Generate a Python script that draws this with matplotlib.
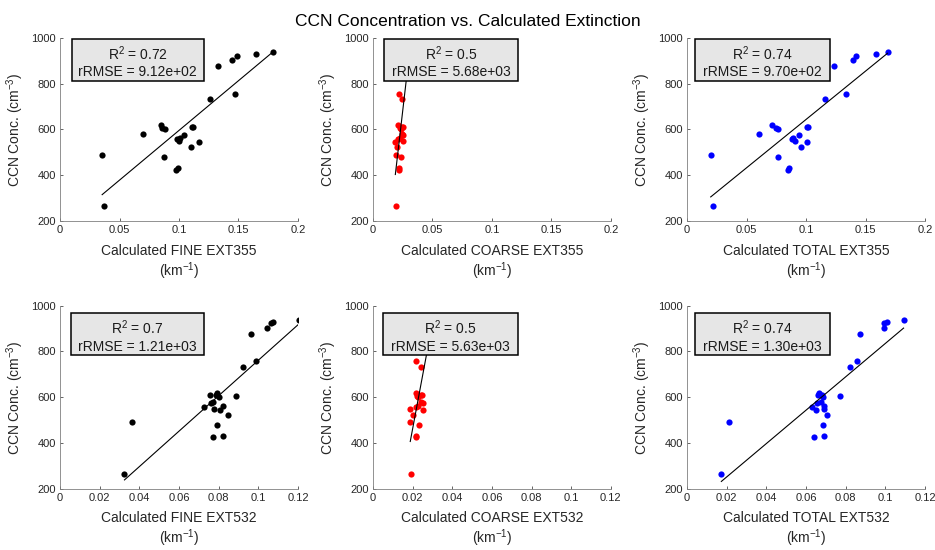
import numpy as np
import matplotlib.pyplot as plt
from matplotlib.patches import Rectangle
from matplotlib.ticker import FormatStrFormatter

plt.rcParams['font.family'] = 'Liberation Sans'
plt.rcParams['mathtext.fontset'] = 'custom'
plt.rcParams['mathtext.rm'] = 'Liberation Sans'
plt.rcParams['mathtext.it'] = 'Liberation Sans:italic'

# CCN concentration (cm^-3), shared by every panel
ccn = [265, 425, 431, 479, 490, 523, 544, 548, 557, 562, 575, 580,
       601, 606, 609, 610, 619, 734, 756, 877, 903, 922, 929, 936]

# calculated extinction (km^-1), same point order as ccn
fine355 = [0.0371, 0.0976, 0.0990, 0.0875, 0.0354, 0.1097, 0.1165, 0.1000,
           0.0985, 0.1010, 0.1044, 0.0698, 0.0886, 0.0855, 0.1110, 0.1120,
           0.0847, 0.1260, 0.1474, 0.1328, 0.1443, 0.1490, 0.1648, 0.1790]
coarse355 = [0.0194, 0.0217, 0.0217, 0.0236, 0.0191, 0.0205, 0.0188, 0.0250,
             0.0211, 0.0228, 0.0253, 0.0245, 0.0239, 0.0228, 0.0250, 0.0242,
             0.0214, 0.0245, 0.0217, 0.0275, 0.0282, 0.0290, 0.0298, 0.0303]
total355 = [0.0219, 0.0848, 0.0860, 0.0767, 0.0199, 0.0955, 0.1011, 0.0907,
            0.0885, 0.0890, 0.0941, 0.0604, 0.0767, 0.0747, 0.1011, 0.1017,
            0.0713, 0.1163, 0.1340, 0.1233, 0.1393, 0.1416, 0.1584, 0.1685]
fine532 = [0.0325, 0.0770, 0.0822, 0.0794, 0.0364, 0.0848, 0.0805, 0.0778,
           0.0726, 0.0822, 0.0762, 0.0772, 0.0804, 0.0886, 0.0757, 0.0787,
           0.0794, 0.0922, 0.0987, 0.0964, 0.1043, 0.1065, 0.1073, 0.1203]
coarse532 = [0.0192, 0.0216, 0.0216, 0.0234, 0.0188, 0.0204, 0.0254, 0.0188,
             0.0216, 0.0227, 0.0251, 0.0244, 0.0229, 0.0220, 0.0249, 0.0241,
             0.0216, 0.0243, 0.0216, 0.0268, 0.0276, 0.0284, 0.0292, 0.0298]
total532 = [0.0173, 0.0640, 0.0690, 0.0684, 0.0210, 0.0708, 0.0652, 0.0689,
            0.0632, 0.0689, 0.0654, 0.0674, 0.0686, 0.0771, 0.0662, 0.0679,
            0.0666, 0.0822, 0.0857, 0.0871, 0.0995, 0.0992, 0.1010, 0.1092]

names = ['FINE EXT355', 'COARSE EXT355', 'TOTAL EXT355',
         'FINE EXT532', 'COARSE EXT532', 'TOTAL EXT532']
r2_text = ['0.72', '0.5', '0.74', '0.7', '0.5', '0.74']
rrmse_text = ['9.12e+02', '5.68e+03', '9.70e+02', '1.21e+03', '5.63e+03', '1.30e+03']
xmax = [0.2, 0.2, 0.2, 0.12, 0.12, 0.12]
colors = ['k', '#ff0000', '#0000ff', 'k', '#ff0000', '#0000ff']
series = [fine355, coarse355, total355, fine532, coarse532, total532]

fig = plt.figure(figsize=(9.35, 5.5), dpi=100)
fig.suptitle('CCN Concentration vs. Calculated Extinction', fontsize=12.5, y=0.975)

lefts = [0.0642, 0.3989, 0.7348]
bottoms = [0.598, 0.111]
box_left = [[0.049, 0.046, 0.035], [0.046, 0.043, 0.035]]
box_right = [[0.604, 0.609, 0.600], [0.605, 0.609, 0.600]]
box_y = [(0.766, 0.993), (0.730, 0.958)]
grey = '#262626'

for i in range(6):
    row, col = divmod(i, 3)
    ax = fig.add_axes([lefts[col], bottoms[row], 0.2545, 0.3335])
    x = np.array(series[i])
    y = np.array(ccn)
    ax.scatter(x, y, s=20, color=colors[i], zorder=3, linewidths=0)
    p = np.polyfit(x, y, 1)
    xl = np.array([x.min(), x.max()])
    ax.plot(xl, np.polyval(p, xl), color='k', lw=0.8, zorder=4)

    ax.set_xlim(0, xmax[i])
    ax.set_ylim(200, 1000)
    step = 0.05 if xmax[i] == 0.2 else 0.02
    ax.set_xticks(np.arange(0, xmax[i] + step / 2, step))
    ax.set_yticks(np.arange(200, 1001, 200))
    ax.xaxis.set_major_formatter(FormatStrFormatter('%g'))
    ax.tick_params(direction='in', length=2.5, width=0.5, labelsize=8,
                   colors=grey, pad=3)
    for s in ['top', 'right']:
        ax.spines[s].set_visible(False)
    for s in ['left', 'bottom']:
        ax.spines[s].set_color('#808080')
        ax.spines[s].set_linewidth(0.6)
    ax.set_xlabel('Calculated ' + names[i] + '\n(km$^{-1}$)', fontsize=10,
                  color=grey, labelpad=6, linespacing=1.15)
    ax.set_ylabel('CCN Conc. (cm$^{-3}$)', fontsize=10, color=grey, labelpad=4)

    bl, br = box_left[row][col], box_right[row][col]
    b0, b1 = box_y[row]
    ax.add_patch(Rectangle((bl, b0), br - bl, b1 - b0, transform=ax.transAxes,
                           facecolor='#e6e6e6', edgecolor='k', lw=1.1,
                           clip_on=False, zorder=10))
    ax.text((bl + br) / 2, (b0 + b1) / 2 - 0.01,
            'R$^2$ = ' + r2_text[i] + '\nrRMSE = ' + rrmse_text[i],
            transform=ax.transAxes, ha='center', va='center', fontsize=10,
            color='#1a1a1a', zorder=11, linespacing=1.25)

fig.savefig('out.png', dpi=100)
